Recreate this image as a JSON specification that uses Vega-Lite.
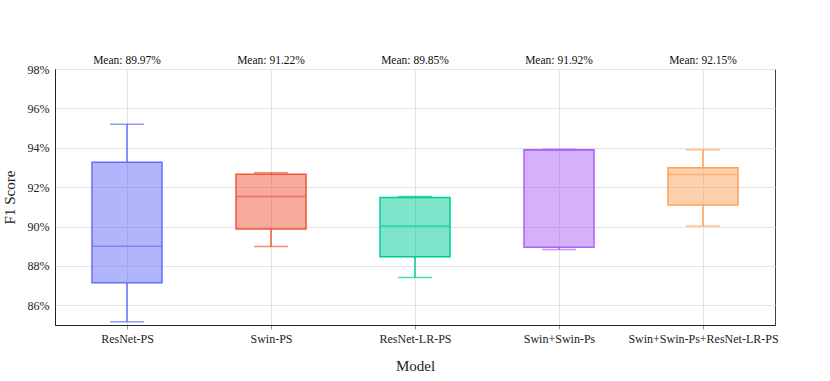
{
  "$schema": "https://vega.github.io/schema/vega-lite/v6.json",
  "width": 720,
  "height": 256,
  "autosize": {"type": "none"},
  "padding": {"left": 55, "top": 69, "right": 55, "bottom": 56},
  "background": "white",
  "config": {
    "font": "Liberation Serif",
    "axis": {"labelFont": "Liberation Serif", "titleFont": "Liberation Serif"},
    "text": {"font": "Liberation Serif"},
    "view": {"stroke": "#444", "strokeWidth": 1}
  },
  "data": {
    "values": [
      {"model": "ResNet-PS", "lower": 85.17, "q1": 87.15, "median": 89.0, "q3": 93.27, "upper": 95.2, "mean_label": "Mean: 89.97%"},
      {"model": "Swin-PS", "lower": 88.98, "q1": 89.88, "median": 91.53, "q3": 92.66, "upper": 92.73, "mean_label": "Mean: 91.22%"},
      {"model": "ResNet-LR-PS", "lower": 87.41, "q1": 88.46, "median": 90.03, "q3": 91.48, "upper": 91.53, "mean_label": "Mean: 89.85%"},
      {"model": "Swin+Swin-Ps", "lower": 88.83, "q1": 88.95, "median": 93.88, "q3": 93.9, "upper": 93.93, "mean_label": "Mean: 91.92%"},
      {"model": "Swin+Swin-Ps+ResNet-LR-PS", "lower": 90.03, "q1": 91.1, "median": 92.64, "q3": 92.98, "upper": 93.9, "mean_label": "Mean: 92.15%"}
    ]
  },
  "encoding": {
    "x": {
      "field": "model",
      "type": "nominal",
      "sort": null,
      "scale": {"type": "point", "padding": 0.5},
      "axis": {
        "title": "Model",
        "titleFont": "Liberation Serif",
        "titleFontSize": 15,
        "titleFontWeight": "normal",
        "titleColor": "#222",
        "titlePadding": 14,
        "labelFont": "Liberation Serif",
        "labelFontSize": 12,
        "labelColor": "#222",
        "labelAngle": 0,
        "labelPadding": 4,
        "tickSize": 4,
        "tickColor": "#999",
        "grid": true,
        "gridColor": "#e3e3e3",
        "domainColor": "#222"
      }
    },
    "color": {
      "field": "model",
      "type": "nominal",
      "sort": null,
      "scale": {"range": ["#636EFA", "#EF553B", "#00CC96", "#AB63FA", "#FFA15A"]},
      "legend": null
    }
  },
  "layer": [
    {
      "mark": {"type": "rule", "strokeWidth": 1.5},
      "encoding": {
        "y": {
          "field": "lower",
          "type": "quantitative",
          "scale": {"domain": [85, 98], "nice": false, "zero": false},
          "axis": {
            "title": "F1 Score",
            "titleFont": "Liberation Serif",
            "titleFontSize": 15,
            "titleFontWeight": "normal",
            "titleColor": "#222",
            "titlePadding": 10,
            "values": [86, 88, 90, 92, 94, 96, 98],
            "labelExpr": "datum.value + '%'",
            "labelFont": "Liberation Serif",
            "labelFontSize": 12,
            "labelColor": "#222",
            "labelPadding": 6,
            "ticks": false,
            "grid": true,
            "gridColor": "#e3e3e3",
            "domainColor": "#222"
          }
        },
        "y2": {"field": "q1"}
      }
    },
    {
      "mark": {"type": "rule", "strokeWidth": 1.5},
      "encoding": {
        "y": {"field": "q3", "type": "quantitative"},
        "y2": {"field": "upper"}
      }
    },
    {
      "mark": {"type": "tick", "size": 34, "thickness": 1.5},
      "encoding": {"y": {"field": "lower", "type": "quantitative"}}
    },
    {
      "mark": {"type": "tick", "size": 34, "thickness": 1.5},
      "encoding": {"y": {"field": "upper", "type": "quantitative"}}
    },
    {
      "mark": {"type": "bar", "size": 70, "fillOpacity": 0.5, "strokeWidth": 1.5},
      "encoding": {
        "y": {"field": "q1", "type": "quantitative"},
        "y2": {"field": "q3"},
        "stroke": {"field": "model", "type": "nominal", "sort": null, "legend": null, "scale": {"range": ["#636EFA", "#EF553B", "#00CC96", "#AB63FA", "#FFA15A"]}}
      }
    },
    {
      "mark": {"type": "tick", "size": 70, "thickness": 1.5},
      "encoding": {"y": {"field": "median", "type": "quantitative"}}
    },
    {
      "mark": {"type": "text", "baseline": "bottom", "dy": -3, "fontSize": 11.5, "font": "Liberation Serif", "color": "#111"},
      "encoding": {
        "y": {"datum": 98, "type": "quantitative"},
        "text": {"field": "mean_label"},
        "color": {"value": "#111"}
      }
    }
  ]
}
